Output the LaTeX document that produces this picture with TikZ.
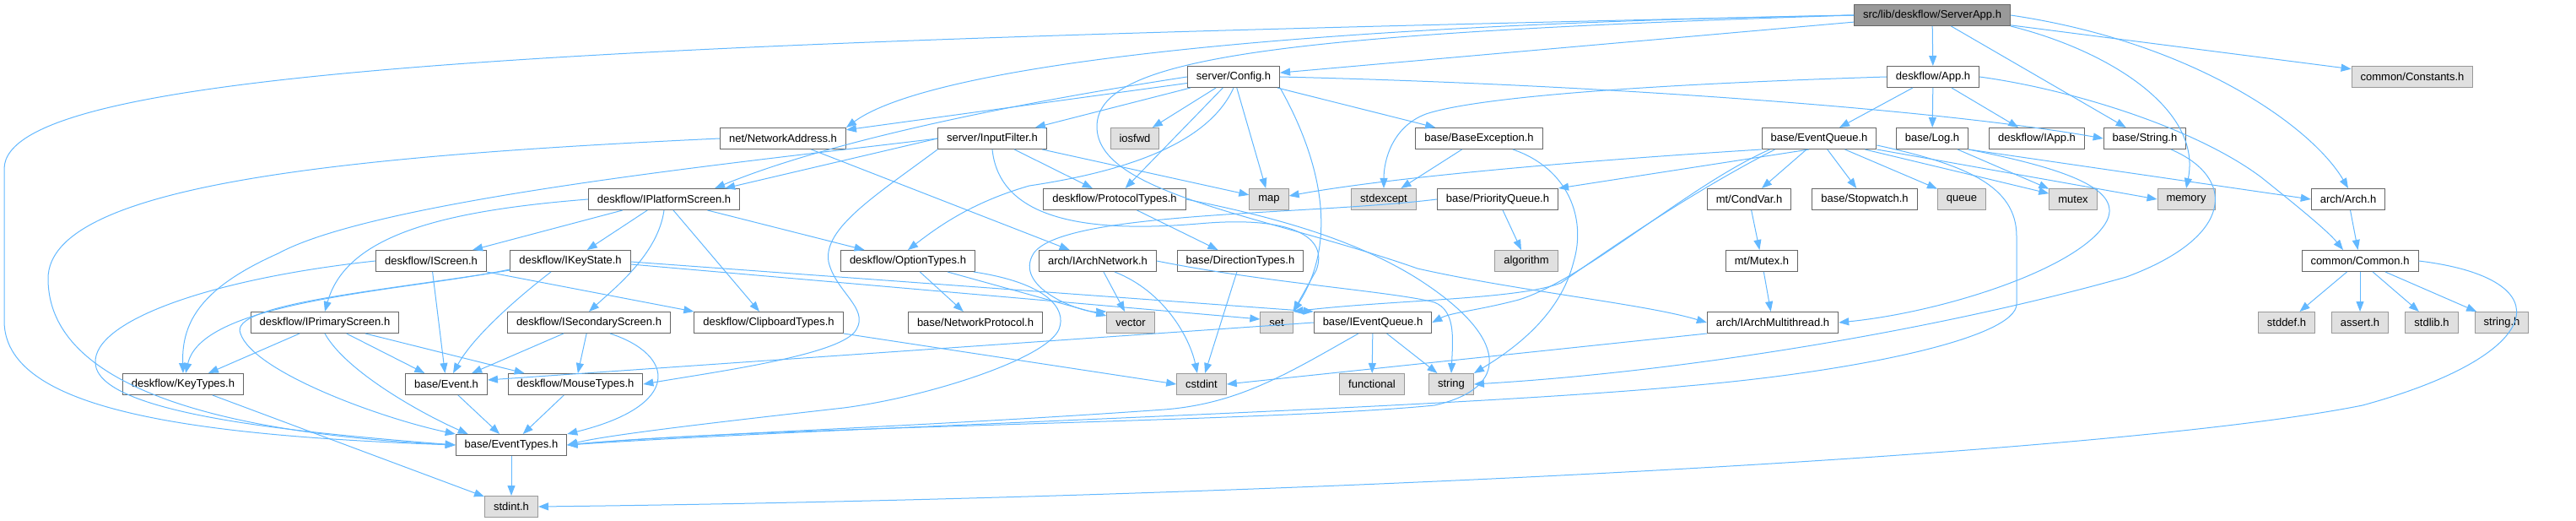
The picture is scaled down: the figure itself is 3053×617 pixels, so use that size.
\documentclass[tikz,border=0pt]{standalone}
\usepackage{fontspec}
\setmainfont{Liberation Sans}
\usetikzlibrary{arrows.meta}
\definecolor{boxline}{HTML}{666666}
\definecolor{extline}{HTML}{999999}
\definecolor{extfill}{HTML}{E0E0E0}
\definecolor{rootfill}{HTML}{999999}
\definecolor{edgecol}{HTML}{63B8FF}
\newcommand{\dxfont}{\fontsize{13}{15}\selectfont}

\begin{document}
\begin{tikzpicture}[x=1pt, y=-1pt,
    hdr/.style={rectangle, draw=boxline, fill=white, line width=1pt, minimum height=25pt, inner xsep=10.5pt, inner ysep=0pt, font=\dxfont},
    ext/.style={hdr, draw=extline, fill=extfill},
    root/.style={hdr, fill=rootfill},
    dep/.style={-{Triangle[length=12pt,width=9pt]}, draw=edgecol, line width=1pt}]

    \useasboundingbox (0,0) rectangle (3053,617);

    \node[root] (sa) at (2290,18) {src/lib/deskflow/ServerApp.h};

    \node[hdr] (config) at (1462,91) {server/Config.h};
    \node[hdr] (app) at (2291,91) {deskflow/App.h};
    \node[ext] (constants) at (2859,91) {common/Constants.h};

    \node[hdr] (netaddr) at (928,164) {net/NetworkAddress.h};
    \node[hdr] (inputfilter) at (1176,164) {server/InputFilter.h};
    \node[ext] (iosfwd) at (1345,164) {iosfwd};
    \node[hdr] (baseexc) at (1753,164) {base/BaseException.h};
    \node[hdr] (eventq) at (2156,164) {base/EventQueue.h};
    \node[hdr] (log) at (2290,164) {base/Log.h};
    \node[hdr] (iapp) at (2414,164) {deskflow/IApp.h};
    \node[hdr] (bstring) at (2542,164) {base/String.h};

    \node[hdr] (iplat) at (787,236) {deskflow/IPlatformScreen.h};
    \node[hdr] (proto) at (1321,236) {deskflow/ProtocolTypes.h};
    \node[ext] (map) at (1504,236) {map};
    \node[ext] (stdexcept) at (1640,236) {stdexcept};
    \node[hdr] (prioq) at (1775,236) {base/PriorityQueue.h};
    \node[hdr] (condvar) at (2073,236) {mt/CondVar.h};
    \node[hdr] (stopwatch) at (2210,236) {base/Stopwatch.h};
    \node[ext] (queue) at (2325,236) {queue};
    \node[ext] (mutex) at (2457,236) {mutex};
    \node[ext] (memory) at (2591,236) {memory};
    \node[hdr] (arch) at (2783,236) {arch/Arch.h};

    \node[hdr] (iscreen) at (511,309) {deskflow/IScreen.h};
    \node[hdr] (ikeystate) at (676,309) {deskflow/IKeyState.h};
    \node[hdr] (optiontypes) at (1076,309) {deskflow/OptionTypes.h};
    \node[hdr] (iarchnet) at (1301,309) {arch/IArchNetwork.h};
    \node[hdr] (dirtypes) at (1470,309) {base/DirectionTypes.h};
    \node[ext] (algorithm) at (1809,309) {algorithm};
    \node[hdr] (mtmutex) at (2088,309) {mt/Mutex.h};
    \node[hdr] (common) at (2797,309) {common/Common.h};

    \node[hdr] (iprimary) at (385,382) {deskflow/IPrimaryScreen.h};
    \node[hdr] (isecondary) at (698,382) {deskflow/ISecondaryScreen.h};
    \node[hdr] (clipboard) at (911,382) {deskflow/ClipboardTypes.h};
    \node[hdr] (netproto) at (1156,382) {base/NetworkProtocol.h};
    \node[ext] (vector) at (1340,382) {vector};
    \node[ext] (set) at (1513,382) {set};
    \node[hdr] (ieventq) at (1627,382) {base/IEventQueue.h};
    \node[hdr] (iarchmt) at (2101,382) {arch/IArchMultithread.h};
    \node[ext] (stddef) at (2710,382) {stddef.h};
    \node[ext] (assert) at (2797,382) {assert.h};
    \node[ext] (stdlib) at (2882,382) {stdlib.h};
    \node[ext] (stringh) at (2965,382) {string.h};

    \node[hdr] (keytypes) at (217,455) {deskflow/KeyTypes.h};
    \node[hdr] (event) at (529,455) {base/Event.h};
    \node[hdr] (mousetypes) at (682,455) {deskflow/MouseTypes.h};
    \node[ext] (cstdint) at (1424,455) {cstdint};
    \node[ext] (functional) at (1626,455) {functional};
    \node[ext] (string) at (1720,455) {string};

    \node[hdr] (eventtypes) at (606,527) {base/EventTypes.h};
    \node[ext] (stdint) at (606,600) {stdint.h};

    % ServerApp.h
    \draw[dep] (sa) -- (app);
    \draw[dep] (sa) -- (bstring);
    \draw[dep] (sa) -- (constants);
    \draw[dep] (sa) -- (config);
    \draw[dep] (sa.east) .. controls (2600,50) and (2740,150) .. (arch.north);
    \draw[dep] (sa.south east) .. controls (2500,60) and (2610,130) .. (memory.north);
    \draw[dep] (sa.west) .. controls (1500,30) and (1100,80) .. (netaddr.north east);
    \draw[dep] (sa.west) .. controls (700,50) and (5,80) .. (5,200) -- (5,380) .. controls (5,480) and (200,515) .. (eventtypes.west);
    \draw[dep] (sa.west) .. controls (1500,40) and (1300,70) .. (1300,150) .. controls (1300,230) and (1500,255) .. (1680,318) .. controls (1800,345) and (1950,360) .. (iarchmt.west);

    % server/Config.h
    \draw[dep] (config) -- (netaddr);
    \draw[dep] (config) -- (inputfilter);
    \draw[dep] (config) -- (iosfwd);
    \draw[dep] (config) -- (proto);
    \draw[dep] (config) -- (map);
    \draw[dep] (config) -- (baseexc);
    \draw[dep] (config.south east) .. controls (1560,180) and (1590,280) .. (set.north east);
    \draw[dep] (config.south) .. controls (1430,175) and (1320,205) .. (1220,220) .. controls (1150,240) and (1110,270) .. (optiontypes.north);
    \draw[dep] (config.west) .. controls (1250,115) and (1000,160) .. ([xshift=-30pt]iplat.north east);
    \draw[dep] (config.east) .. controls (1900,100) and (2300,130) .. (bstring.west);

    % server/InputFilter.h
    \draw[dep] (inputfilter.west) -- ([xshift=-18pt]iplat.north east);
    \draw[dep] (inputfilter.west) .. controls (900,190) and (450,235) .. (330,300) .. controls (240,340) and (215,380) .. (keytypes.north);
    \draw[dep] (inputfilter.south west) .. controls (1040,230) and (975,270) .. (982,310) .. controls (990,345) and (1030,365) .. (1015,390) .. controls (1000,420) and (850,440) .. (mousetypes.east);
    \draw[dep] (inputfilter) -- (proto);
    \draw[dep] (inputfilter) -- (map);
    \draw[dep] (inputfilter.south) .. controls (1185,265) and (1300,275) .. (1420,265) .. controls (1530,255) and (1575,280) .. (1560,320) -- (set.north east);

    % net/NetworkAddress.h
    \draw[dep] (netaddr) -- (iarchnet);
    \draw[dep] (netaddr.west) .. controls (400,185) and (57,220) .. (57,330) .. controls (57,470) and (300,515) .. (eventtypes.west);

    % deskflow/IPlatformScreen.h
    \draw[dep] (iplat) -- (iscreen);
    \draw[dep] (iplat) -- (ikeystate);
    \draw[dep] (iplat.south) .. controls (780,300) and (730,340) .. (isecondary.north);
    \draw[dep] (iplat) -- (clipboard);
    \draw[dep] (iplat) -- (optiontypes);
    \draw[dep] (iplat.west) .. controls (520,250) and (410,280) .. (iprimary.north);

    % deskflow/IScreen.h
    \draw[dep] (iscreen) -- (event);
    \draw[dep] (iscreen.south east) -- (clipboard.north west);
    \draw[dep] (iscreen.west) .. controls (250,330) and (110,380) .. (113,430) .. controls (116,490) and (350,512) .. (eventtypes.west);

    % deskflow/IKeyState.h
    \draw[dep] ([xshift=-23pt]ikeystate.south) .. controls (610,355) and (560,400) .. ([xshift=8pt]event.north);
    \draw[dep] ([yshift=-10pt]ikeystate.west) .. controls (480,345) and (240,355) .. ([xshift=3pt]keytypes.north);
    \draw[dep] ([yshift=-11pt]ikeystate.west) .. controls (450,345) and (270,360) .. (285,395) .. controls (300,440) and (450,495) .. (eventtypes.north west);
    \draw[dep] ([yshift=-4pt]ikeystate.east) -- ([yshift=4pt]set.west);
    \draw[dep] ([yshift=-1pt]ikeystate.east) -- (ieventq.north west);

    % deskflow/IPrimaryScreen.h, ISecondaryScreen.h
    \draw[dep] (iprimary) -- (keytypes);
    \draw[dep] (iprimary) -- (event);
    \draw[dep] ([xshift=48pt]iprimary.south) -- ([xshift=20pt]mousetypes.north west);
    \draw[dep] (iprimary.south) .. controls (410,440) and (500,490) .. ([xshift=15pt]eventtypes.north west);
    \draw[dep] (isecondary) -- (event);
    \draw[dep] (isecondary) -- (mousetypes);
    \draw[dep] ([xshift=25pt]isecondary.south) .. controls (800,420) and (810,480) .. (eventtypes.north east);

    % types
    \draw[dep] (event) -- (eventtypes);
    \draw[dep] (mousetypes) -- (eventtypes);
    \draw[dep] (keytypes) -- (stdint);
    \draw[dep] (eventtypes) -- (stdint);
    \draw[dep] (clipboard.south east) -- (cstdint.west);

    % deskflow/OptionTypes.h, ProtocolTypes.h, arch/IArchNetwork.h
    \draw[dep] (optiontypes) -- (netproto);
    \draw[dep] (optiontypes) -- (vector);
    \draw[dep] ([xshift=-2pt]optiontypes.south east) .. controls (1240,335) and (1265,365) .. (1255,390) .. controls (1240,425) and (1100,470) .. (1000,483) .. controls (850,500) and (720,515) .. (eventtypes.east);
    \draw[dep] (proto) -- (dirtypes);
    \draw[dep] (proto.east) .. controls (1500,255) and (1600,280) .. (1680,330) .. controls (1790,400) and (1790,460) .. (1700,480) .. controls (1500,500) and (900,505) .. (eventtypes.east);
    \draw[dep] (dirtypes) -- (cstdint);
    \draw[dep] (iarchnet) -- (vector);
    \draw[dep] ([xshift=20pt]iarchnet.south) .. controls (1380,345) and (1410,400) .. ([xshift=-5pt]cstdint.north);
    \draw[dep] (iarchnet.east) .. controls (1500,335) and (1650,345) .. (1700,358) .. controls (1725,368) and (1722,400) .. (string.north);

    % deskflow/App.h
    \draw[dep] (app) -- (eventq);
    \draw[dep] (app) -- (log);
    \draw[dep] (app) -- (iapp);
    \draw[dep] (app.west) .. controls (1950,100) and (1750,115) .. (1690,135) .. controls (1650,150) and (1640,190) .. (stdexcept.north);
    \draw[dep] (app.east) .. controls (2450,105) and (2600,150) .. (2680,210) .. controls (2730,250) and (2760,275) .. ([xshift=-20pt]common.north);

    % base/EventQueue.h
    \draw[dep] (eventq) -- (condvar);
    \draw[dep] (eventq) -- (stopwatch);
    \draw[dep] (eventq) -- (queue);
    \draw[dep] (eventq) -- (mutex);
    \draw[dep] (eventq.south east) -- (memory.west);
    \draw[dep] (eventq.south west) .. controls (1800,195) and (1620,215) .. ([yshift=4pt]map.east);
    \draw[dep] ([xshift=-12pt]eventq.south) -- (prioq.north east);
    \draw[dep] ([xshift=10pt]eventq.south west) .. controls (2000,220) and (1880,330) .. (1800,355) .. controls (1750,368) and (1720,370) .. (ieventq.east);
    \draw[dep] ([xshift=16pt]eventq.south west) .. controls (2000,230) and (1900,300) .. (1850,335) .. controls (1800,355) and (1650,355) .. (set.north east);
    \draw[dep] ([yshift=-8pt]eventq.east) .. controls (2330,195) and (2390,220) .. (2390,280) -- (2390,360) .. controls (2390,400) and (2200,440) .. (2000,457) .. controls (1700,485) and (1000,505) .. (eventtypes.east);

    % base/Log.h
    \draw[dep] (log) -- (mutex);
    \draw[dep] (log.south east) -- (arch.west);
    \draw[dep] (log.south east) .. controls (2450,200) and (2520,225) .. (2495,265) .. controls (2460,320) and (2300,370) .. (iarchmt.east);

    % base/String.h, base/BaseException.h, base/PriorityQueue.h
    \draw[dep] ([xshift=31pt]bstring.south) .. controls (2650,210) and (2650,280) .. (2520,328) .. controls (2300,390) and (2000,440) .. (string.east);
    \draw[dep] (baseexc) -- (stdexcept);
    \draw[dep] ([xshift=40pt]baseexc.south) .. controls (1860,200) and (1880,260) .. (1865,310) .. controls (1850,370) and (1800,410) .. (string.north east);
    \draw[dep] (prioq) -- (algorithm);
    \draw[dep] (prioq.west) .. controls (1550,255) and (1260,250) .. (1225,300) .. controls (1200,340) and (1280,370) .. (vector.north west);

    % base/IEventQueue.h
    \draw[dep] (ieventq.west) -- ([yshift=5pt]event.east);
    \draw[dep] ([xshift=-17pt]ieventq.south) .. controls (1530,440) and (1470,478) .. (1380,485) .. controls (1100,505) and (800,515) .. (eventtypes.east);
    \draw[dep] (ieventq) -- (functional);
    \draw[dep] (ieventq) -- (string);

    % mt, arch, common
    \draw[dep] (condvar) -- (mtmutex);
    \draw[dep] (mtmutex) -- (iarchmt);
    \draw[dep] (iarchmt.south west) -- (cstdint.east);
    \draw[dep] (arch) -- (common);
    \draw[dep] (common) -- (stddef);
    \draw[dep] (common) -- (assert);
    \draw[dep] (common) -- (stdlib);
    \draw[dep] (common) -- (stringh);
    \draw[dep] (common.east) .. controls (3040,330) and (3020,420) .. (2800,480) .. controls (2500,540) and (1500,590) .. (stdint.east);
\end{tikzpicture}
\end{document}
